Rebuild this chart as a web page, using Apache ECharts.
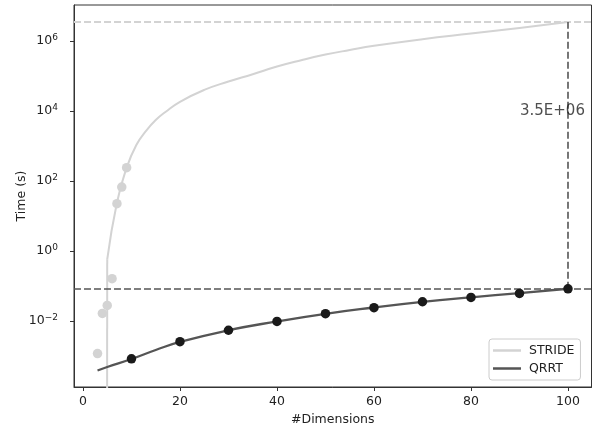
<!DOCTYPE html>
<html><head><meta charset="utf-8">
<script src="https://cdn.jsdelivr.net/npm/echarts@6/dist/echarts.min.js"></script>
<style>html,body{margin:0;padding:0;background:#fff}#c{width:600px;height:431px}</style>
</head><body><div id="c"></div>
<script>
// ---- data (raw seconds) ----
const qrrtX = [10, 20, 30, 40, 50, 60, 70, 80, 90, 100];
const qrrtTime = [8.4e-4, 2.6e-3, 5.5e-3, 9.8e-3, 0.0163, 0.0242, 0.0358, 0.0475, 0.062, 0.084];
const qrrtFitX = [3, 5, 10, 15, 20, 30, 40, 50, 60, 70, 80, 90, 100];
const qrrtFitTime = [3.9e-4, 4.9e-4, 8.3e-4, 1.5e-3, 2.55e-3, 5.5e-3, 9.8e-3, 0.0162, 0.0245, 0.0355, 0.048, 0.063, 0.084];
const strideX = [3, 4, 5, 6, 7, 8, 9];
const strideTime = [1.19e-3, 0.0166, 0.0281, 0.163, 22.6, 67.4, 241];
// first fit sample is non-positive in the original (clipped on the log axis)
const strideClipX = [3, 5];
const strideClipTime = [1e-300, 0.58];
const strideFitX = [5, 7, 9, 11, 13, 15, 17, 20, 25, 30, 35, 40, 45, 50, 55, 60, 70, 80, 90, 100];
const strideFitTime = [0.58, 24, 240, 1070, 2690, 5500, 9330, 18200, 39800, 69200, 112000, 186000, 282000, 407000, 550000, 724000, 1120000, 1620000, 2340000, 3460000];
const xTicks = [0, 20, 40, 60, 80, 100];
const yTickExp = [-2, 0, 2, 4, 6];
const seriesNames = ['STRIDE', 'QRRT'];

const L = v => Math.log10(v);
const pairs = (xs, ys) => xs.map((x, i) => [x, L(ys[i])]);
const FONT = 'DejaVu Sans';
const strideMax = strideFitTime[strideFitTime.length - 1];
const qrrtLast = qrrtTime[qrrtTime.length - 1];
const lastX = qrrtX[qrrtX.length - 1];
function sci(v) {
  const [m, e] = v.toExponential(1).split('e');
  const sign = e[0] === '-' ? '-' : '+';
  return m + 'E' + sign + e.replace(/[+-]/, '').padStart(2, '0');
}
const sup = e => (e < 0 ? '\u2212' + (-e) : String(e));

const chart = echarts.init(document.getElementById('c'), null, {renderer: 'canvas'});
chart.setOption({
  animation: false,
  textStyle: {fontFamily: FONT},
  grid: {left: 74, right: 8.5, top: 5, bottom: 43, show: true, borderColor: '#333', borderWidth: 1, backgroundColor: 'transparent'},
  xAxis: {
    type: 'value', min: -1.85, max: 104.85,
    name: '#Dimensions', nameLocation: 'middle', nameGap: 26, nameMoveOverlap: false,
    nameTextStyle: {fontSize: 12.5, color: '#222', fontFamily: FONT},
    axisLine: {show: true, onZero: false, lineStyle: {color: '#333', width: 1}},
    axisTick: {show: true, length: 4, customValues: xTicks, lineStyle: {color: '#333'}},
    axisLabel: {customValues: xTicks, fontSize: 12.5, color: '#222', margin: 8, fontFamily: FONT},
    splitLine: {show: false}
  },
  yAxis: {
    type: 'value', min: -3.88, max: 7.025,
    name: 'Time (s)', nameLocation: 'middle', nameGap: 46, nameMoveOverlap: false,
    nameTextStyle: {fontSize: 12.5, color: '#222', fontFamily: FONT},
    axisLine: {show: true, onZero: false, lineStyle: {color: '#333', width: 1}},
    axisTick: {show: true, length: 4, customValues: yTickExp, lineStyle: {color: '#333'}},
    axisLabel: {
      customValues: yTickExp, margin: 16, color: '#222',
      formatter: v => '{b|10}{s|' + sup(Math.round(v)) + '}',
      rich: {
        b: {fontSize: 12.5, color: '#222', fontFamily: FONT},
        s: {fontSize: 9, color: '#222', fontFamily: FONT, verticalAlign: 'top', padding: [0, 0, 7, 0]}
      }
    },
    splitLine: {show: false}
  },
  legend: {
    data: seriesNames, orient: 'vertical', left: 489, top: 339,
    icon: 'rect', itemWidth: 28, itemHeight: 2.5, itemGap: 5,
    textStyle: {fontSize: 12.5, color: '#222', fontFamily: FONT, padding: [0, 0, 0, 3]},
    backgroundColor: '#fff', borderColor: '#ccc', borderWidth: 1, borderRadius: 3,
    padding: [5, 6, 5, 4]
  },
  series: [
    {
      name: seriesNames[0], type: 'line', data: pairs(strideClipX, strideClipTime),
      showSymbol: false, color: '#d3d3d3', lineStyle: {color: '#d3d3d3', width: 2}, z: 2
    },
    {
      name: seriesNames[0], type: 'line', data: pairs(strideFitX, strideFitTime),
      smooth: 0.5,
      showSymbol: false, color: '#d3d3d3', lineStyle: {color: '#d3d3d3', width: 2}, z: 2,
      markLine: {
        silent: true, symbol: 'none', label: {show: false},
        lineStyle: {color: '#d3d3d3', width: 1.8, type: [7, 3]},
        data: [{yAxis: L(strideMax)}]
      }
    },
    {
      name: 'STRIDE samples', type: 'scatter', data: pairs(strideX, strideTime),
      symbolSize: 9.5, itemStyle: {color: '#d3d3d3', opacity: 1}, z: 3
    },
    {
      name: seriesNames[1], type: 'line', data: pairs(qrrtFitX, qrrtFitTime), smooth: true,
      showSymbol: false, color: '#555555', lineStyle: {color: '#555555', width: 2.3}, z: 4,
      markLine: {
        silent: true, symbol: 'none', label: {show: false},
        lineStyle: {color: '#555555', width: 1.6, type: [7, 3]},
        data: [
          {yAxis: L(qrrtLast)},
          [{coord: [lastX, L(qrrtLast)]}, {coord: [lastX, L(strideMax)]}]
        ]
      }
    },
    {
      name: 'QRRT samples', type: 'scatter', data: pairs(qrrtX, qrrtTime),
      symbolSize: 9.5, itemStyle: {color: '#1a1a1a', opacity: 1}, z: 5
    },
    {
      name: 'annotation', type: 'scatter', data: [[96.8, 4]], symbolSize: 0, silent: true, z: 6,
      label: {show: true, position: 'inside', formatter: sci(strideMax), fontSize: 15, color: '#222', fontFamily: FONT}
    }
  ]
});
</script>
</body></html>
